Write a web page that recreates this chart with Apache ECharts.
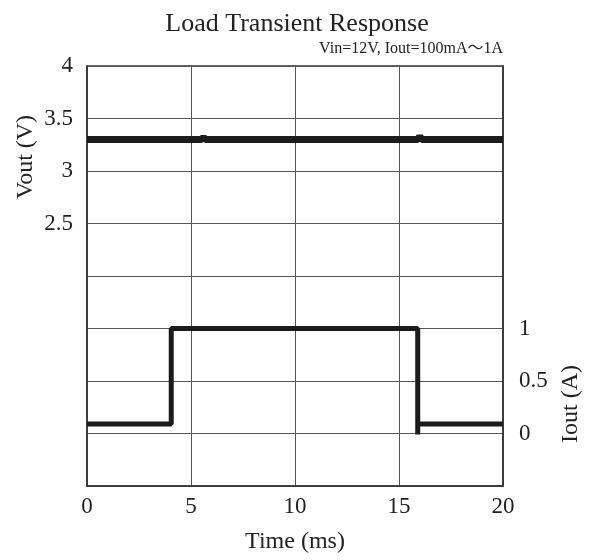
<!DOCTYPE html>
<html lang="en">
<head>
<meta charset="UTF-8">
<title>Load Transient Response</title>
<script src="https://cdn.jsdelivr.net/npm/echarts@6/dist/echarts.min.js"></script>
<style>
  body { margin: 0; background: #fff; }
  #main { width: 594px; height: 560px; }
</style>
</head>
<body>
<div id="main"></div>
<script>
var xTicks = [0, 5, 10, 15, 20];
var voutTicks = [2.5, 3, 3.5, 4];
var ioutTicks = [0, 0.5, 1];

var voutTime = [0, 5.5, 5.6, 5.7, 15.9, 16.0, 16.1, 20];
var voutVal = [3.30, 3.30, 3.32, 3.30, 3.30, 3.33, 3.30, 3.30];

var ioutTime = [0, 4.05, 4.05, 10.0, 15.9, 15.9, 15.9, 20];
var ioutVal = [0.09, 0.09, 1.0, 1.0, 1.0, -0.01, 0.09, 0.09];

var serif = '"Liberation Serif", "DejaVu Serif", "Noto Sans CJK JP", serif';
var myChart = echarts.init(document.getElementById('main'));

function pairs(xs, ys) {
  return xs.map(function (x, i) { return [x, ys[i]]; });
}
function pick(list) {
  return function (v) {
    return list.indexOf(v) >= 0 ? String(v) : '';
  };
}

var option = {
  backgroundColor: '#fff',
  animation: false,
  title: {
    text: 'Load Transient Response',
    left: 292,
    top: 6,
    textAlign: 'center',
    textStyle: { fontFamily: serif, fontSize: 26, fontWeight: 'normal', color: '#222' }
  },
  graphic: [
    {
      type: 'text', right: 91, top: 41,
      style: { text: 'Vin=12V, Iout=100mA～1A', font: '16px ' + serif, fill: '#222' }
    },
    {
      type: 'text', x: 26, y: 157, rotation: Math.PI / 2,
      style: { text: 'Vout (V)', font: '24px ' + serif, fill: '#222', align: 'center', verticalAlign: 'middle' }
    },
    {
      type: 'text', x: 571, y: 404, rotation: Math.PI / 2,
      style: { text: 'Iout (A)', font: '24px ' + serif, fill: '#222', align: 'center', verticalAlign: 'middle' }
    }
  ],
  grid: {
    left: 87, right: 91, top: 66, bottom: 74,
    show: true, borderColor: '#333', borderWidth: 1.5
  },
  xAxis: {
    type: 'value', min: 0, max: 20, interval: 5,
    name: 'Time (ms)', nameLocation: 'middle', nameGap: 44,
    nameTextStyle: { fontFamily: serif, fontSize: 24, color: '#222' },
    axisLine: { lineStyle: { color: '#333', width: 1.5 } },
    axisTick: { show: false },
    axisLabel: { fontFamily: serif, fontSize: 23, color: '#222', margin: 9, formatter: pick(xTicks) },
    splitLine: { lineStyle: { color: '#555', width: 1 } }
  },
  yAxis: [
    {
      type: 'value', min: 0, max: 4, interval: 0.5,
      axisLine: { show: true, lineStyle: { color: '#333', width: 1.5 } },
      axisTick: { show: false },
      axisLabel: { fontFamily: serif, fontSize: 23, color: '#222', margin: 14, formatter: pick(voutTicks) },
      splitLine: { lineStyle: { color: '#555', width: 1 } }
    },
    {
      type: 'value', min: -0.5, max: 3.5, interval: 0.5, position: 'right',
      axisLine: { show: true, lineStyle: { color: '#333', width: 1.5 } },
      axisTick: { show: false },
      axisLabel: { fontFamily: serif, fontSize: 23, color: '#222', margin: 16, formatter: pick(ioutTicks) },
      splitLine: { show: false }
    }
  ],
  series: [
    {
      name: 'Vout', type: 'line', yAxisIndex: 0, showSymbol: false,
      data: pairs(voutTime, voutVal),
      lineStyle: { color: '#1b1b1b', width: 7 }
    },
    {
      name: 'Iout', type: 'line', yAxisIndex: 1, showSymbol: false,
      data: pairs(ioutTime, ioutVal),
      lineStyle: { color: '#1b1b1b', width: 5 }
    }
  ]
};
myChart.setOption(option);
</script>
</body>
</html>
